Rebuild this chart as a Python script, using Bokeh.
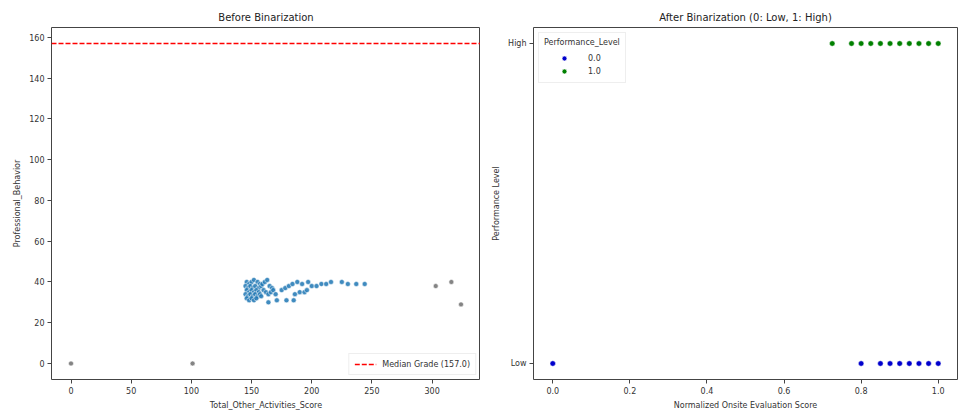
from bokeh.plotting import figure
from bokeh.layouts import row
from bokeh.models import FixedTicker, Range1d, Legend, LegendItem
from bokeh.embed import file_html
from bokeh.resources import INLINE

# ---------------- data: left panel ----------------
cluster_x = [146, 148, 150, 152, 155, 157,
             145, 147, 149, 151, 153, 156, 158,
             146, 148, 150, 152, 154, 156,
             145, 147, 149, 151, 153, 155, 157,
             146, 148, 150, 152, 154,
             159, 161, 163, 165, 167, 160, 162, 164, 166, 168, 170, 158,
             164, 171, 179, 185,
             175, 178, 181, 184, 188, 192, 197, 186, 190, 194, 196,
             200, 204, 208, 212, 216, 225, 230, 237, 244]
cluster_y = [40, 39, 40, 41, 40, 39,
             38, 37, 38, 37, 38, 37, 38,
             36, 35, 36, 35, 36, 35,
             34, 33, 34, 33, 34, 33, 34,
             32, 31, 32, 31, 32,
             39, 40, 41, 38, 37, 36, 35, 34, 35, 36, 34, 33,
             30, 31, 31, 31,
             36, 37, 38, 39, 40, 39, 40, 34, 35, 35, 36,
             38, 38, 39, 39, 40, 40, 39, 39, 39]
outlier_x = [0, 101, 303, 316, 324]
outlier_y = [0, 0, 38, 40, 29]
median_grade = 157.0
left_xticks = [0, 50, 100, 150, 200, 250, 300]
left_yticks = [0, 20, 40, 60, 80, 100, 120, 140, 160]

# ---------------- data: right panel ----------------
low_x = [0.0, 0.8, 0.85, 0.875, 0.9, 0.925, 0.95, 0.975, 1.0]
low_y = [0] * len(low_x)
high_x = [0.725, 0.775, 0.8, 0.825, 0.85, 0.875, 0.9, 0.925, 0.95, 0.975, 1.0]
high_y = [1] * len(high_x)
right_xticks = [0.0, 0.2, 0.4, 0.6, 0.8, 1.0]
level_labels = {0: "Low", 1: "High"}

FONT = "DejaVu Sans"
TXT = "#333333"


def style(p):
    p.title.text_font = FONT
    p.title.text_font_size = "10px"
    p.title.text_font_style = "normal"
    p.title.align = "center"
    p.title.text_color = "#222222"
    p.outline_line_color = "#444444"
    p.outline_line_width = 1
    p.xgrid.visible = False
    p.ygrid.visible = False
    p.background_fill_color = "white"
    p.border_fill_color = "white"
    for ax in (p.xaxis[0], p.yaxis[0]):
        ax.axis_line_color = None
        ax.major_tick_in = 0
        ax.major_tick_out = 4
        ax.major_tick_line_color = "#444444"
        ax.minor_tick_line_color = None
        ax.major_label_text_font = FONT
        ax.major_label_text_font_size = "8px"
        ax.major_label_text_color = TXT
        ax.axis_label_text_font = FONT
        ax.axis_label_text_font_size = "8px"
        ax.axis_label_text_font_style = "normal"
        ax.axis_label_text_color = TXT
        ax.axis_label_standoff = 4
        ax.major_label_standoff = 3


# ---------------- left figure ----------------
lx0, lx1 = -16.2, 340.2
p1 = figure(output_backend="svg", toolbar_location=None,
            frame_width=429, frame_height=352,
            min_border_left=51, min_border_right=0,
            min_border_top=27, min_border_bottom=36,
            x_range=Range1d(lx0, lx1), y_range=Range1d(-7.85, 164.85),
            title="Before Binarization")
style(p1)
p1.xaxis.axis_label = "Total_Other_Activities_Score"
p1.yaxis.axis_label = "Professional_Behavior"
p1.xaxis.ticker = FixedTicker(ticks=left_xticks)
p1.yaxis.ticker = FixedTicker(ticks=left_yticks)

p1.scatter(outlier_x, outlier_y, size=5, fill_color="#777777",
           line_color="white", line_width=0.6, fill_alpha=0.9)
p1.scatter(cluster_x, cluster_y, size=5, fill_color="#1f77b4",
           line_color="white", line_width=0.5, fill_alpha=0.85)
med = p1.line([lx0, lx1], [median_grade, median_grade], line_color="red",
              line_dash="5 2", line_width=1.4)
leg1 = Legend(items=[LegendItem(label="Median Grade (%.1f)" % median_grade,
                                renderers=[med])],
              location="bottom_right", label_text_font=FONT,
              label_text_font_size="8px", label_text_color=TXT,
              glyph_width=22, glyph_height=10, padding=5, spacing=2,
              margin=4, border_line_color="#dddddd",
              background_fill_alpha=0.8, label_standoff=6)
p1.add_layout(leg1, "center")

# ---------------- right figure ----------------
p2 = figure(output_backend="svg", toolbar_location=None,
            frame_width=424, frame_height=352,
            min_border_left=53, min_border_right=1,
            min_border_top=27, min_border_bottom=36,
            x_range=Range1d(-0.05, 1.05), y_range=Range1d(-0.05, 1.05),
            title="After Binarization (0: Low, 1: High)")
style(p2)
p2.xaxis.axis_label = "Normalized Onsite Evaluation Score"
p2.yaxis.axis_label = "Performance Level"
p2.xaxis.ticker = FixedTicker(ticks=right_xticks)
p2.yaxis.ticker = FixedTicker(ticks=list(level_labels.keys()))
p2.yaxis.major_label_overrides = level_labels
p2.xaxis.major_label_overrides = {t: "%.1f" % t for t in right_xticks}

r_low = p2.scatter(low_x, low_y, size=5.5, fill_color="#0000cc",
                   line_color="white", line_width=0.5)
r_high = p2.scatter(high_x, high_y, size=5.5, fill_color="#008000",
                    line_color="white", line_width=0.5)
leg2 = Legend(items=[LegendItem(label="0.0", renderers=[r_low]),
                     LegendItem(label="1.0", renderers=[r_high])],
              location="top_left", title="Performance_Level",
              title_text_font=FONT, title_text_font_size="8px",
              title_text_font_style="normal", title_text_color=TXT,
              label_text_font=FONT, label_text_font_size="8px",
              label_text_color=TXT, glyph_width=40, glyph_height=12,
              padding=5, spacing=1, margin=5,
              border_line_color="#dddddd", label_standoff=4,
              background_fill_alpha=0.8)
p2.add_layout(leg2, "center")

layout = row(p1, p2, spacing=0)
open("out.html", "w").write(file_html(layout, INLINE))
